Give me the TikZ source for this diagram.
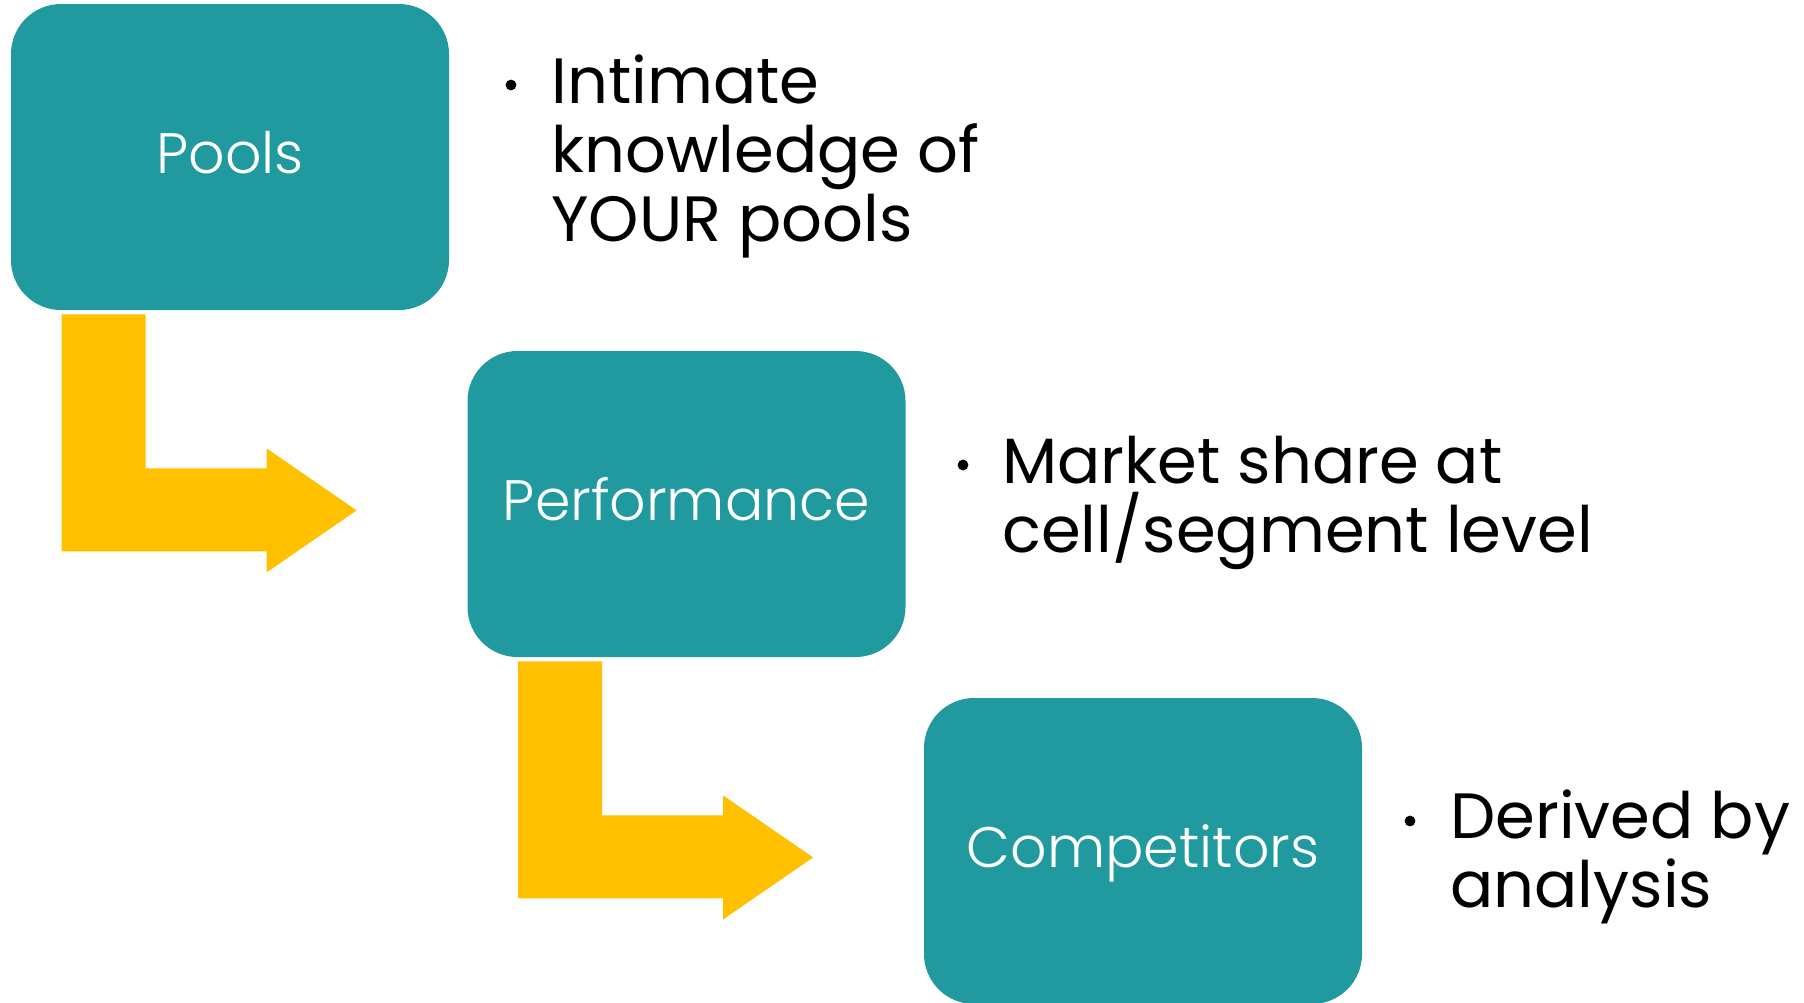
\documentclass[tikz,border=0pt]{standalone}
\usepackage{fontspec}
\setmainfont{Poppins}
\IfFontExistsTF{Poppins Light}
  {\newfontfamily\boxfont{Poppins Light}}
  {\newfontfamily\boxfont{Poppins}}
\definecolor{stepteal}{HTML}{219A9F}
\definecolor{arrowgold}{HTML}{FFC000}

\begin{document}
\begin{tikzpicture}[x=0.5pt, y=-0.5pt,
  stage/.style={fill=stepteal, rounded corners=25pt,
    minimum width=219pt, minimum height=153pt, inner sep=0pt,
    text=white, text height=19.5pt, text depth=3pt,
    font=\boxfont\fontsize{28.5}{30}\selectfont},
  % anchored at the baseline of the last line
  note/.style={anchor=base west, align=left, inner sep=0pt,
    font=\fontsize{32}{34.5}\selectfont},
  bulletdot/.style={circle, fill=black, minimum size=5.4pt, inner sep=0pt},
  pics/elbow/.style={code={
    \fill[arrowgold] (51,4) -- (135,4) -- (135,158) -- (256,158)
      -- (256,138) -- (346,200) -- (256,262) -- (256,241)
      -- (51,241) -- cycle;}}]
\useasboundingbox (0,0) rectangle (1804,1002);

% the three stages
\node[stage] (pools) at (230,157) {Pools};
\node[stage] (perf)  at (686.5,504) {Performance};
\node[stage] (comp)  at (1143,851) {Competitors};

% elbow arrows from one stage down to the next
\pic at (pools.south west) {elbow};
\pic at (perf.south west) {elbow};

% bullet notes
\node[bulletdot] (d1) at (511,85) {};
\node[note] (n1) at (551,241) {Intimate\\knowledge of\\YOUR pools};
\node[bulletdot] (d2) at (963,465) {};
\node[note] (n2) at (1002,552) {Market share at\\cell/segment level};
\node[bulletdot] (d3) at (1410,821) {};
\node[note] (n3) at (1450,907) {Derived by\\analysis};
\end{tikzpicture}
\end{document}
